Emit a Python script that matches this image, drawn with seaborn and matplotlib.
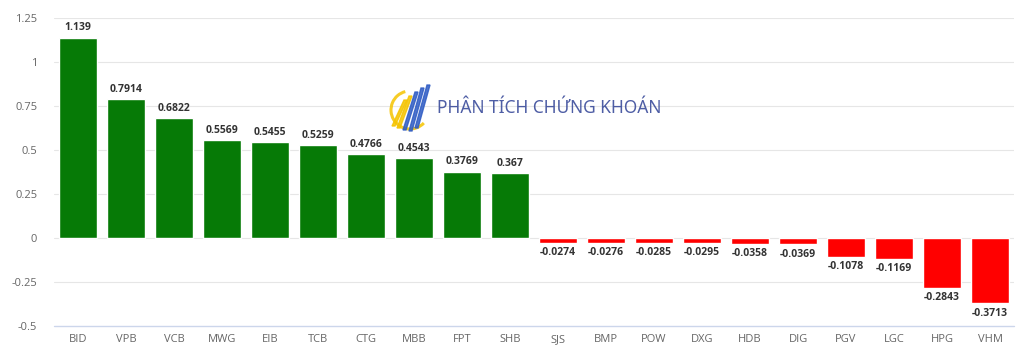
import matplotlib
matplotlib.use("Agg")
import matplotlib.pyplot as plt
import seaborn as sns
import pandas as pd
from matplotlib.patches import Arc, Polygon

categories = ["BID", "VPB", "VCB", "MWG", "EIB", "TCB", "CTG", "MBB", "FPT", "SHB",
              "SJS", "BMP", "POW", "DXG", "HDB", "DIG", "PGV", "LGC", "HPG", "VHM"]
values = [1.139, 0.7914, 0.6822, 0.5569, 0.5455, 0.5259, 0.4766, 0.4543, 0.3769, 0.367,
          -0.0274, -0.0276, -0.0285, -0.0295, -0.0358, -0.0369, -0.1078, -0.1169, -0.2843, -0.3713]
labels = ["1.139", "0.7914", "0.6822", "0.5569", "0.5455", "0.5259", "0.4766", "0.4543", "0.3769", "0.367",
          "-0.0274", "-0.0276", "-0.0285", "-0.0295", "-0.0358", "-0.0369", "-0.1078", "-0.1169", "-0.2843", "-0.3713"]
y_ticks = [-0.5, -0.25, 0, 0.25, 0.5, 0.75, 1, 1.25]
y_tick_labels = ["-0.5", "-0.25", "0", "0.25", "0.5", "0.75", "1", "1.25"]

sns.set_theme(style="white")
plt.rcParams['font.family'] = ['Open Sans', 'DejaVu Sans']

df = pd.DataFrame({"cat": categories, "val": values,
                   "sign": ["pos" if v >= 0 else "neg" for v in values]})

W, H = 1024, 351
fig = plt.figure(figsize=(W / 100, H / 100), dpi=100)
ax = fig.add_axes([54/W, 1 - 326/H, 960/W, (326 - 18)/H])

sns.barplot(data=df, x="cat", y="val", hue="sign", palette={"pos": "#067a06", "neg": "#ff0000"},
            dodge=False, width=0.79, legend=False, ax=ax, saturation=1, zorder=3)

ax.set_xlim(-0.5, len(categories) - 0.5)
ax.set_ylim(-0.5, 1.25)
ax.set_yticks(y_ticks)
ax.set_yticklabels(y_tick_labels)
ax.set_xlabel("")
ax.set_ylabel("")
for y in y_ticks:
    if y == -0.5:
        ax.axhline(y, color="#ccd6eb", lw=1, zorder=1, clip_on=False)
    else:
        ax.axhline(y, color="#e6e6e6", lw=0.8, zorder=1)
for s in ax.spines.values():
    s.set_visible(False)
ax.tick_params(axis="both", length=0, labelsize=8, labelcolor="#666666")
ax.tick_params(axis="y", pad=12)
ax.tick_params(axis="x", pad=6)

for i, (v, lab) in enumerate(zip(values, labels)):
    if v >= 0:
        ax.annotate(lab, (i, v), xytext=(0, 3), textcoords="offset points",
                    ha="center", va="bottom", fontsize=7.5, fontweight="bold", color="#333333")
    else:
        ax.annotate(lab, (i, v), xytext=(0, -3), textcoords="offset points",
                    ha="center", va="top", fontsize=7.5, fontweight="bold", color="#333333")

# watermark logo (simple) and text
def fx(px):
    return px / W

def fy(py):
    return 1 - py / H

arc = Arc((fx(410), fy(110)), 38/W, 38/H, theta1=95, theta2=290, color="#f5c400", lw=2.2,
          transform=fig.transFigure, alpha=0.85)
fig.add_artist(arc)
stripes = [(397, 100, 126, "#f5c400"), (402, 96, 128, "#f5c400"), (408, 92, 130, "#2f5cc4"),
           (414, 88, 131, "#2f5cc4"), (420, 85, 128, "#2f5cc4")]
for (xc, top, bot, col) in stripes:
    w = 3
    poly = Polygon([(fx(xc + 7), fy(top)), (fx(xc + 7 + w), fy(top)),
                    (fx(xc - 5 + w), fy(bot)), (fx(xc - 5), fy(bot))],
                   closed=True, transform=fig.transFigure, color=col, alpha=0.85)
    fig.add_artist(poly)

fig.text(fx(437), fy(108), "PHÂN TÍCH CHỨNG KHOÁN", fontsize=12.5, color="#3b4c9b",
         ha="left", va="center", alpha=0.9, family=["Noto Sans", "DejaVu Sans"], fontstretch="condensed")

fig.savefig("out.png", dpi=100)
